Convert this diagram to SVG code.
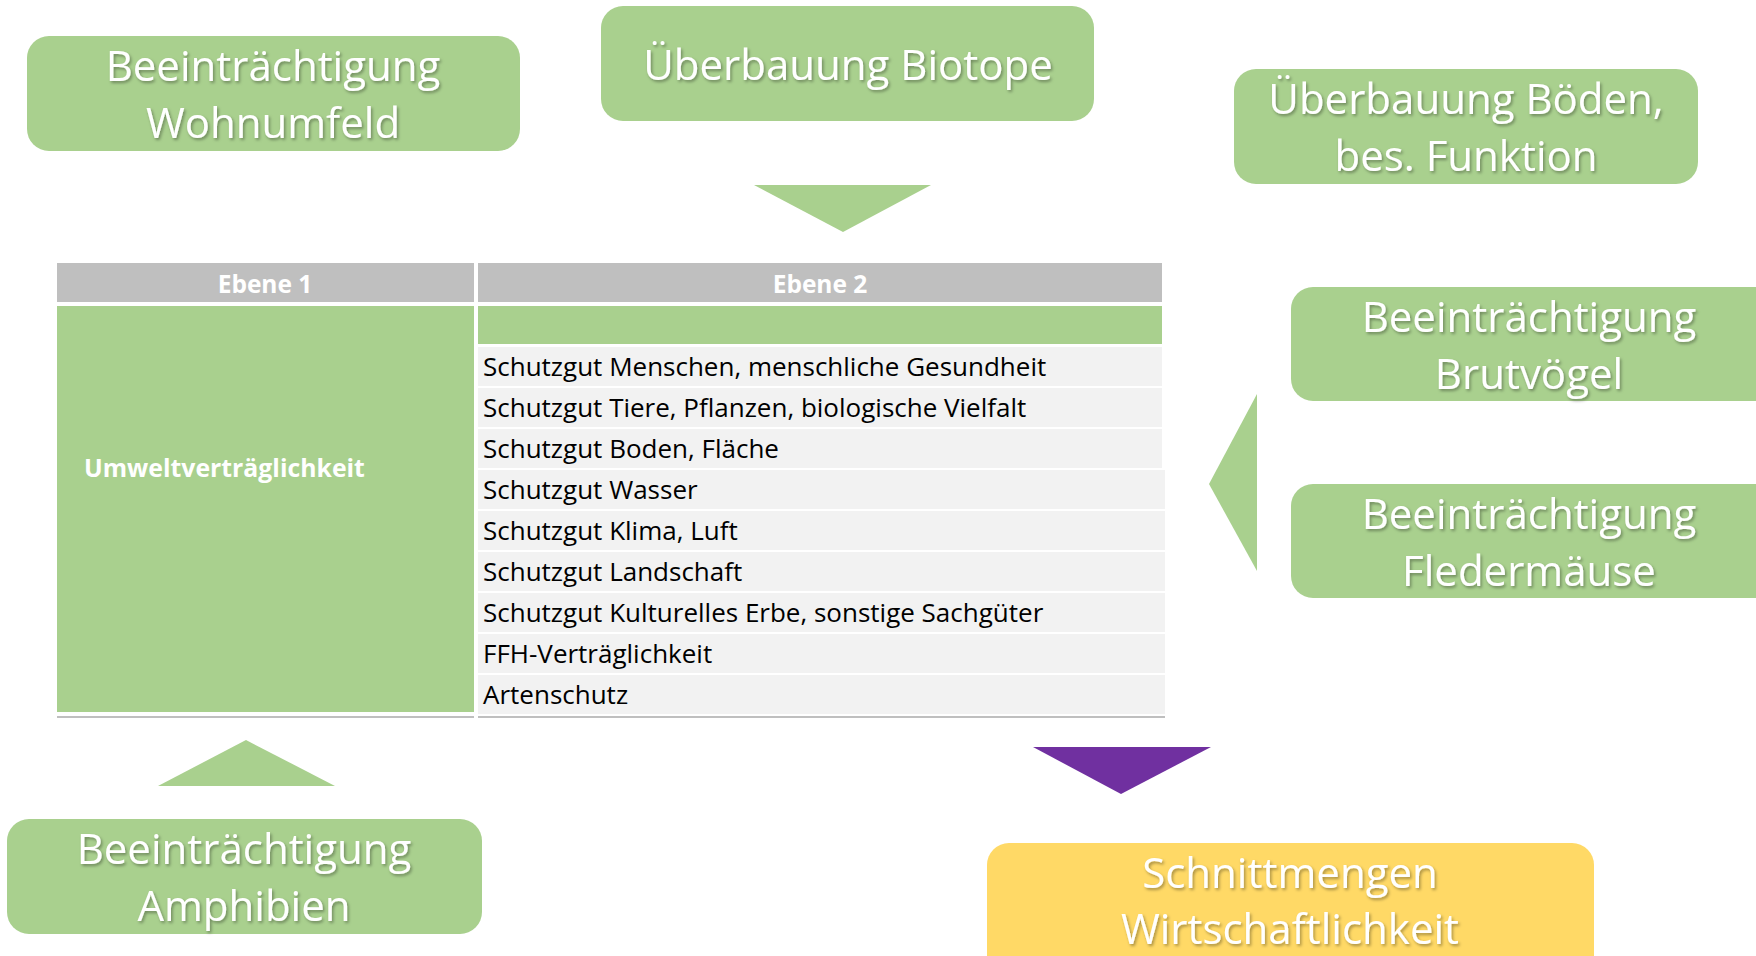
<svg xmlns="http://www.w3.org/2000/svg" width="1756" height="956" viewBox="0 0 1756 956">
<defs>
<filter id="sh" x="-10%" y="-30%" width="120%" height="160%">
<feDropShadow dx="1.5" dy="2" stdDeviation="1.5" flood-color="#000" flood-opacity="0.35"/>
</filter>
<style>
.g{fill:#A9D08E}
.y{fill:#FFD966}
.bt{font-family:"Open Sans","Noto Sans",sans-serif;font-size:42px;fill:#fff;text-anchor:middle;filter:url(#sh)}
.hd{fill:#BFBFBF}
.ht{font-family:"Open Sans","Noto Sans",sans-serif;font-size:24.5px;font-weight:bold;fill:#fff;text-anchor:middle}
.row{fill:#F2F2F2}
.rt{font-family:"Open Sans","Noto Sans",sans-serif;font-size:26px;fill:#000}
.ut{font-family:"Open Sans","Noto Sans",sans-serif;font-size:24.8px;font-weight:bold;fill:#fff}
.ln{stroke:#BFBFBF;stroke-width:2}
</style>
</defs>
<rect width="1756" height="956" fill="#fff"/>

<g id="n-wohnumfeld">
<rect class="g" x="27" y="36" width="493" height="115" rx="22"/>
<text class="bt" x="273" y="81">Beeinträchtigung</text>
<text class="bt" x="273" y="138">Wohnumfeld</text>
</g>

<g id="n-biotope">
<rect class="g" x="601" y="6" width="493" height="115" rx="22"/>
<text class="bt" x="848" y="80">Überbauung Biotope</text>
</g>

<g id="n-boeden">
<rect class="g" x="1234" y="69" width="464" height="115" rx="22"/>
<text class="bt" x="1466" y="114">Überbauung Böden,</text>
<text class="bt" x="1466" y="171">bes. Funktion</text>
</g>

<g id="n-brutvoegel">
<rect class="g" x="1291" y="287" width="500" height="114" rx="22"/>
<text class="bt" x="1529" y="332">Beeinträchtigung</text>
<text class="bt" x="1529" y="389">Brutvögel</text>
</g>

<g id="n-fledermaeuse">
<rect class="g" x="1291" y="484" width="500" height="114" rx="22"/>
<text class="bt" x="1529" y="529">Beeinträchtigung</text>
<text class="bt" x="1529" y="586">Fledermäuse</text>
</g>

<g id="n-amphibien">
<rect class="g" x="7" y="819" width="475" height="115" rx="22"/>
<text class="bt" x="244" y="864">Beeinträchtigung</text>
<text class="bt" x="244" y="921">Amphibien</text>
</g>

<g id="n-schnittmengen">
<rect class="y" x="987" y="843" width="607" height="140" rx="22"/>
<text class="bt" x="1290" y="888">Schnittmengen</text>
<text class="bt" x="1290" y="944">Wirtschaftlichkeit</text>
</g>

<g id="n-table">
<rect class="hd" x="57" y="263" width="417" height="39"/>
<rect class="hd" x="478" y="263" width="684" height="39"/>
<text class="ht" x="265" y="293">Ebene 1</text>
<text class="ht" x="820" y="293">Ebene 2</text>
<rect class="g" x="57" y="306" width="417" height="406"/>
<rect class="g" x="478" y="306" width="684" height="38"/>
<text class="ut" x="84" y="477">Umweltverträglichkeit</text>
<rect class="row" x="478" y="347" width="684" height="39"/>
<rect class="row" x="478" y="388" width="684" height="39"/>
<rect class="row" x="478" y="429" width="684" height="39"/>
<rect class="row" x="478" y="470" width="687" height="39"/>
<rect class="row" x="478" y="511" width="687" height="39"/>
<rect class="row" x="478" y="552" width="687" height="39"/>
<rect class="row" x="478" y="593" width="687" height="39"/>
<rect class="row" x="478" y="634" width="687" height="39"/>
<rect class="row" x="478" y="675" width="687" height="39"/>
<text class="rt" x="483" y="376">Schutzgut Menschen, menschliche Gesundheit</text>
<text class="rt" x="483" y="417">Schutzgut Tiere, Pflanzen, biologische Vielfalt</text>
<text class="rt" x="483" y="458">Schutzgut Boden, Fläche</text>
<text class="rt" x="483" y="499">Schutzgut Wasser</text>
<text class="rt" x="483" y="540">Schutzgut Klima, Luft</text>
<text class="rt" x="483" y="581">Schutzgut Landschaft</text>
<text class="rt" x="483" y="622">Schutzgut Kulturelles Erbe, sonstige Sachgüter</text>
<text class="rt" x="483" y="663">FFH-Verträglichkeit</text>
<text class="rt" x="483" y="704">Artenschutz</text>
<line class="ln" x1="57" y1="717" x2="474" y2="717"/>
<line class="ln" x1="478" y1="717" x2="1165" y2="717"/>
</g>

<g id="connectors">
<polygon class="g" points="754,185 931,185 843,232"/>
<polygon class="g" points="1257,394 1257,571 1209,484"/>
<polygon class="g" points="158,786 335,786 246,740"/>
<polygon fill="#7030A0" points="1033,747 1211,747 1121,794"/>
</g>
</svg>
